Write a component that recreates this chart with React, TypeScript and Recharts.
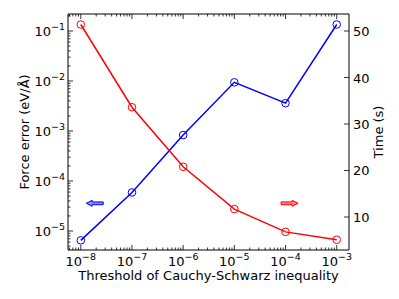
import { LineChart, Line, XAxis, YAxis, ReferenceDot } from "recharts"

const thresholds = [1e-8, 1e-7, 1e-6, 1e-5, 1e-4, 1e-3]
const forceError = [6.5e-6, 5.9e-5, 8.3e-4, 9.4e-3, 3.6e-3, 0.135]
const timeSec = [51.4, 33.6, 20.8, 11.7, 6.8, 5.1]
const timeTicks = [10, 20, 30, 40, 50]

const xDomain = [Math.pow(10, -8.25), Math.pow(10, -2.76)]
const forceDomain = [Math.pow(10, -5.38), Math.pow(10, -0.66)]
const timeDomain = [2.9, 53.66]

// arrow annotations (x on threshold axis, y on force axis)
const leftArrow = { x: 1.87e-8, y: 3.58e-5 }
const rightArrow = { x: 1.2e-4, y: 3.58e-5 }

const data = thresholds.map((t, i) => ({ t, force: forceError[i], time: timeSec[i] }))

const FONT = "DejaVu Sans, sans-serif"

function logTicks(lo: number, hi: number) {
  const out: number[] = []
  for (let e = Math.floor(Math.log10(lo)); e <= Math.ceil(Math.log10(hi)); e++) {
    for (let k = 1; k <= 9; k++) {
      const v = k * Math.pow(10, e)
      if (v >= lo && v <= hi) out.push(v)
    }
  }
  return out
}

const xTicks = logTicks(xDomain[0], xDomain[1])
const yTicks = logTicks(forceDomain[0], forceDomain[1])

const isMajor = (v: number) => Math.abs(Math.log10(v) - Math.round(Math.log10(v))) < 1e-6

function Pow10({ x, y, v, anchor }: any) {
  return (
    <text x={x} y={y} textAnchor={anchor} fontFamily={FONT} fontSize={13} fill="#000">
      10
      <tspan dy={-6} fontSize={9.5}>
        {"\u2212" + Math.abs(Math.round(Math.log10(v)))}
      </tspan>
    </text>
  )
}

const BottomTick = ({ x, y, payload }: any) => {
  const major = isMajor(payload.value)
  return (
    <g>
      <line x1={x} x2={x} y1={y} y2={y - (major ? 5 : 2.5)} stroke="#000" strokeWidth={0.8} />
      {major && <Pow10 x={x} y={y + 16} v={payload.value} anchor="middle" />}
    </g>
  )
}

const TopTick = ({ x, y, payload }: any) => {
  const major = isMajor(payload.value)
  return <line x1={x} x2={x} y1={y} y2={y + (major ? 5 : 2.5)} stroke="#000" strokeWidth={0.8} />
}

const LeftTick = ({ x, y, payload }: any) => {
  const major = isMajor(payload.value)
  return (
    <g>
      <line x1={x} x2={x + (major ? 5 : 2.5)} y1={y} y2={y} stroke="#000" strokeWidth={0.8} />
      {major && <Pow10 x={x - 3} y={y + 5} v={payload.value} anchor="end" />}
    </g>
  )
}

const RightTick = ({ x, y, payload }: any) => (
  <g>
    <line x1={x} x2={x - 5} y1={y} y2={y} stroke="#000" strokeWidth={0.8} />
    <text x={x + 4} y={y + 5} textAnchor="start" fontFamily={FONT} fontSize={13} fill="#000">
      {payload.value}
    </text>
  </g>
)

const Arrow = ({ cx, cy, dir, color }: any) => {
  const s = dir === "left" ? -1 : 1
  const half = 8.5
  const tip = cx + s * half
  const tail = cx - s * half
  const neck = tip - s * 6
  const d = `M${tail},${cy - 1.4} L${neck},${cy - 1.4} L${neck},${cy - 3} L${tip},${cy} L${neck},${cy + 3} L${neck},${cy + 1.4} L${tail},${cy + 1.4} Z`
  return <path d={d} fill={color} fillOpacity={0.45} stroke={color} strokeWidth={1} />
}

const labelStyle = { fontFamily: FONT, fontSize: 13, fill: "#000" }

export default function App() {
  return (
    <div style={{ position: "absolute", left: 0, top: 0 }}>
      <LineChart width={399} height={299} data={data} margin={{ top: 4, right: 0, bottom: 0, left: 0 }}>
        <XAxis
          dataKey="t"
          type="number"
          scale="log"
          domain={xDomain}
          allowDataOverflow
          ticks={xTicks}
          interval={0}
          tickSize={0}
          tickMargin={0}
          tick={<BottomTick />}
          height={49}
          stroke="#000"
          label={{
            content: () => (
              <text x={208.5} y={280} textAnchor="middle" {...labelStyle}>
                Threshold of Cauchy-Schwarz inequality
              </text>
            ),
          }}
        />
        <XAxis
          xAxisId="top"
          dataKey="t"
          type="number"
          orientation="top"
          scale="log"
          domain={xDomain}
          allowDataOverflow
          ticks={xTicks}
          interval={0}
          tickSize={0}
          tickMargin={0}
          tick={<TopTick />}
          height={10}
          stroke="#000"
        />
        <YAxis
          yAxisId="left"
          type="number"
          scale="log"
          domain={forceDomain}
          allowDataOverflow
          ticks={yTicks}
          interval={0}
          tickSize={0}
          tickMargin={0}
          tick={<LeftTick />}
          width={68}
          stroke="#000"
          label={{
            content: () => (
              <text x={24.5} y={132} dy="0.35em" textAnchor="middle" transform="rotate(-90, 24.5, 132)" {...labelStyle}>
                Force error (eV/Å)
              </text>
            ),
          }}
        />
        <YAxis
          yAxisId="right"
          orientation="right"
          type="number"
          domain={timeDomain}
          allowDataOverflow
          ticks={timeTicks}
          interval={0}
          tickSize={0}
          tickMargin={0}
          tick={<RightTick />}
          width={50}
          stroke="#000"
          label={{
            content: () => (
              <text x={378} y={132} dy="0.35em" textAnchor="middle" transform="rotate(-90, 378, 132)" {...labelStyle}>
                Time (s)
              </text>
            ),
          }}
        />
        <Line
          yAxisId="left"
          dataKey="force"
          stroke="#0000ff"
          strokeWidth={1.5}
          dot={{ r: 3.8, fill: "none", stroke: "#0000ff", strokeWidth: 1 }}
          isAnimationActive={false}
        />
        <Line
          yAxisId="right"
          dataKey="time"
          stroke="#ff0000"
          strokeWidth={1.5}
          dot={{ r: 3.8, fill: "none", stroke: "#ff0000", strokeWidth: 1 }}
          isAnimationActive={false}
        />
        <ReferenceDot
          yAxisId="left"
          x={leftArrow.x}
          y={leftArrow.y}
          shape={(p: any) => <Arrow cx={p.cx} cy={p.cy} dir="left" color="#0000ff" />}
        />
        <ReferenceDot
          yAxisId="left"
          x={rightArrow.x}
          y={rightArrow.y}
          shape={(p: any) => <Arrow cx={p.cx} cy={p.cy} dir="right" color="#ff0000" />}
        />
      </LineChart>
    </div>
  )
}
